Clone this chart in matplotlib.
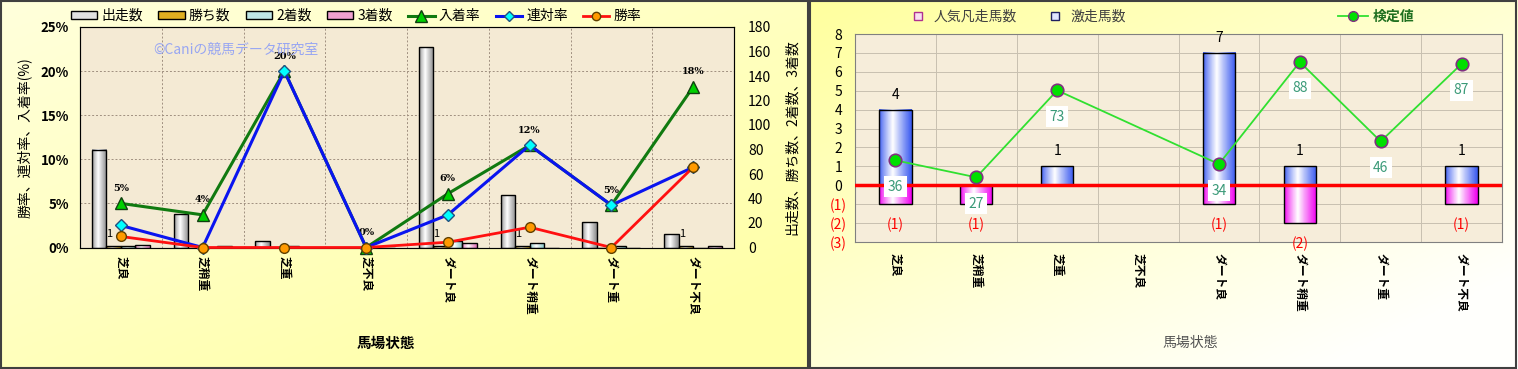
import numpy as np
import matplotlib
matplotlib.use('Agg')
import matplotlib.pyplot as plt
from matplotlib.colors import LinearSegmentedColormap
from matplotlib.patches import Patch, Rectangle
from matplotlib.lines import Line2D
from matplotlib.ticker import FuncFormatter, FixedLocator

plt.rcParams['font.family'] = ['Noto Sans CJK JP', 'DejaVu Sans']
plt.rcParams['axes.unicode_minus'] = False

# ---- data ----
cats = ['芝良', '芝稍重', '芝重', '芝不良', 'ダート良', 'ダート稍重', 'ダート重', 'ダート不良']
runs = [80, 27, 5, 0, 164, 43, 21, 11]      # 出走数
wins = [1, 0, 0, 0, 1, 1, 0, 1]             # 勝ち数
second = [1, 0, 1, 0, 5, 4, 1, 0]           # 2着数
third = [2, 1, 0, 0, 4, 0, 0, 1]            # 3着数
place_rate = [5.0, 3.7, 20.0, 0.0, 6.1, 11.6, 4.8, 18.2]   # 入着率
quin_rate = [2.5, 0.0, 20.0, 0.0, 3.7, 11.6, 4.8, 9.1]     # 連対率
win_rate = [1.25, 0.0, 0.0, 0.0, 0.6, 2.3, 0.0, 9.1]       # 勝率

hot = [4, 0, 1, 0, 7, 1, 0, 1]          # 激走馬数
flop = [-1, -1, 0, 0, -1, -2, 0, -1]    # 人気凡走馬数
test_val = [36, 27, 73, np.nan, 34, 88, 46, 87]  # 検定値

W, H = 1518, 369
fig = plt.figure(figsize=(W / 100, H / 100), dpi=100)

# background gradients for both panels
bg = fig.add_axes([0, 0, 1, 1], zorder=-10)
bg.set_axis_off()
xx, yy = np.meshgrid(np.linspace(0, 1, 300), np.linspace(0, 1, 80))
white = np.array([1.0, 1.0, 0.97])
yellow = np.array([1.0, 1.0, 0.66])
tl = np.clip(0.35 + 0.35 * xx + 0.4 * yy, 0, 1)[..., None]
img_l = white * (1 - tl) + yellow * tl
tr = np.clip(1.0 - 0.55 * xx - 0.6 * yy, 0, 1)[..., None]
img_r = np.array([1.0, 1.0, 0.99]) * (1 - tr) + np.array([1.0, 1.0, 0.62]) * tr
bg.imshow(img_l, extent=[0, 808, H, 0], aspect='auto')
bg.imshow(img_r, extent=[810, W, H, 0], aspect='auto')
bg.set_xlim(0, W); bg.set_ylim(H, 0)
bg.add_patch(Rectangle((1, 1), 807, H - 2, fill=False, ec='#404040', lw=1.5))
bg.add_patch(Rectangle((810, 1), W - 812, H - 2, fill=False, ec='#404040', lw=1.5))


def cmap3(c):
    return LinearSegmentedColormap.from_list('g', [c, '#FFFFFF', c], N=128)


def grad_bars(ax, x, h, w, color, z=2):
    bars = ax.bar(x, h, w, facecolor='none', edgecolor='black', lw=1, zorder=z + 1)
    g = np.linspace(0, 1, 60).reshape(1, -1) ** 0.8
    for b in bars:
        if b.get_height() == 0:
            continue
        x0, y0 = b.get_x(), b.get_y()
        ax.imshow(g, extent=[x0, x0 + b.get_width(), y0, y0 + b.get_height()],
                  aspect='auto', cmap=cmap3(color), zorder=z, interpolation='bilinear')
    return bars


x = np.arange(len(cats))
parch = '#F4EAD4'

# ================= left chart =================
pos_l = [80 / W, 1 - 247.5 / H, 654 / W, 220.5 / H]
ax_pct = fig.add_axes(pos_l)
ax_pct.set_facecolor(parch)
ax_pct.set_xlim(-0.5, 7.5)
ax_pct.set_ylim(0, 25)
ax_pct.set_yticks(np.arange(0, 26, 5))
ax_pct.yaxis.set_major_formatter(FuncFormatter(lambda v, p: f'{v:.0f}%'))
ax_pct.set_xticks(x)
ax_pct.set_xticklabels(cats, rotation=-90, fontweight='bold', fontsize=8.5, va='top')
ax_pct.xaxis.set_minor_locator(FixedLocator(np.arange(0.5, 7.5, 1)))
ax_pct.grid(axis='y', color='#A09080', ls=(0, (2, 2)), lw=0.7)
ax_pct.grid(axis='x', which='minor', color='#A09080', ls=(0, (2, 2)), lw=0.7)
ax_pct.tick_params(axis='x', which='both', length=0, pad=6)
ax_pct.tick_params(axis='y', length=0, labelsize=9.5, pad=8)
for t in ax_pct.get_yticklabels():
    t.set_fontweight('bold')
ax_pct.set_ylabel('勝率、連対率、入着率(%)', fontsize=10, labelpad=6)
for s in ax_pct.spines.values():
    s.set_color('#606060')

ax_cnt = ax_pct.twinx()
ax_cnt.set_ylim(0, 180)
ax_cnt.set_yticks(np.arange(0, 181, 20))
ax_cnt.tick_params(axis='y', length=0, labelsize=10, pad=10)
ax_cnt.set_ylabel('出走数、勝ち数、2着数、3着数', fontsize=10, labelpad=10)
bw = 0.178
grad_bars(ax_cnt, x - 1.5 * bw, runs, bw, '#8C8C8C')
grad_bars(ax_cnt, x - 0.5 * bw, wins, bw, '#C99400')
grad_bars(ax_cnt, x + 0.5 * bw, second, bw, '#7FC4C4')
grad_bars(ax_cnt, x + 1.5 * bw, third, bw, '#E070B8')
ax_cnt.set_xlim(-0.5, 7.5)
ax_cnt.set_ylim(0, 180)
for xi, v in zip(x, wins):
    if v:
        ax_cnt.annotate(str(v), (xi - 0.5 * bw - 0.05, v), textcoords='offset points',
                        xytext=(0, 7), ha='center', fontsize=8)

ax_ln = fig.add_axes(pos_l, sharex=ax_pct, sharey=ax_pct)
ax_ln.patch.set_visible(False)
ax_ln.set_axis_off()
ax_ln.plot(x, place_rate, color='#107A10', lw=2.2, marker='^', ms=9,
           mfc='#00D000', mec='#104010', zorder=4, clip_on=False)
ax_ln.plot(x, quin_rate, color='#0A14F0', lw=2.2, marker='D', ms=6,
           mfc='#00FFFF', mec='#205080', zorder=5, clip_on=False)
ax_ln.plot(x, win_rate, color='#FF1010', lw=2.0, marker='o', ms=7,
           mfc='#FF9A00', mec='#604000', zorder=6, clip_on=False)
for xi, v in zip(x, place_rate):
    ax_ln.annotate(f'{v:.0f}%', (xi, v), textcoords='offset points', xytext=(0, 9),
                   ha='center', fontsize=7, fontweight='bold', family='DejaVu Serif')
ax_ln.text(0.238, 0.895, '©Caniの競馬データ研究室', transform=ax_ln.transAxes,
           ha='center', va='center', fontsize=10, color='#98A6F2')

fig.text(386 / W, 1 - 343 / H, '馬場状態', ha='center', va='center',
         fontsize=10.5, fontweight='bold')

h_l = [Patch(fc='#E0E0E0', ec='black', label='出走数'),
       Patch(fc='#E0B020', ec='black', label='勝ち数'),
       Patch(fc='#BFE6E6', ec='black', label='2着数'),
       Patch(fc='#F0A0D0', ec='black', label='3着数'),
       Line2D([], [], color='#107A10', lw=2.2, marker='^', ms=8, mfc='#00D000', mec='#104010', label='入着率'),
       Line2D([], [], color='#0A14F0', lw=2.2, marker='D', ms=5, mfc='#00FFFF', mec='#205080', label='連対率'),
       Line2D([], [], color='#FF1010', lw=2.0, marker='o', ms=6, mfc='#FF9A00', mec='#604000', label='勝率')]
fig.legend(handles=h_l, loc='center', bbox_to_anchor=(356 / W, 1 - 16 / H), ncol=7,
           frameon=False, fontsize=10, handlelength=1.9, handleheight=0.45,
           columnspacing=1.1, handletextpad=0.3)

# ================= right chart =================
pos_r = [855 / W, 1 - 242 / H, 647 / W, 208 / H]
ax_r = fig.add_axes(pos_r)
ax_r.set_facecolor('#F6EDDA')
grad_bars(ax_r, x, hot, 0.4, '#3A5AF0')
grad_bars(ax_r, x, flop, 0.4, '#F000F0')
ax_r.set_xlim(-0.5, 7.5)
ax_r.set_ylim(-3, 8)
ax_r.set_yticks(np.arange(-3, 9))
ax_r.set_yticklabels([f'({-v})' if v < 0 else str(v) for v in range(-3, 9)])
for t, v in zip(ax_r.get_yticklabels(), range(-3, 9)):
    if v < 0:
        t.set_color('red')
ax_r.tick_params(axis='y', length=0, labelsize=10, pad=12)
for t in ax_r.get_yticklabels():
    t.set_horizontalalignment('center')
ax_r.set_xticks(x)
ax_r.set_xticklabels(cats, rotation=-90, fontweight='bold', fontsize=8.5, va='top')
ax_r.xaxis.set_minor_locator(FixedLocator(np.arange(0.5, 7.5, 1)))
ax_r.tick_params(axis='x', which='both', length=0, pad=8)
ax_r.grid(axis='y', color='#C8C0B0', lw=0.7)
ax_r.grid(axis='x', which='minor', color='#C8C0B0', lw=0.7)
ax_r.set_axisbelow(True)
ax_r.axhline(0, color='#FF0000', lw=2.5, zorder=6)
for s in ax_r.spines.values():
    s.set_color('#808080')
for xi, v in zip(x, hot):
    if v:
        ax_r.annotate(str(v), (xi, v), textcoords='offset points', xytext=(0, 8),
                      ha='center', fontsize=10)
for xi, v in zip(x, flop):
    if v:
        ax_r.annotate(f'({-v})', (xi, v), textcoords='offset points', xytext=(0, -10),
                      ha='center', va='top', fontsize=10, color='red')

ax_r2 = ax_r.twinx()
ax_r2.set_ylim(-7.2, 102.8)
ax_r2.set_axis_off()
m = ~np.isnan(np.array(test_val))
ax_r2.plot(x[m], np.array(test_val)[m], color='#30E030', lw=1.3, marker='o', ms=9,
           mfc='#00E000', mec='#803080', mew=1.2, zorder=7)
for xi, v in zip(x[m], np.array(test_val)[m]):
    ax_r2.annotate(f'{v:.0f}', (xi, v), textcoords='offset points', xytext=(0, -14),
                   ha='center', va='top', fontsize=10, color='#3A9A78',
                   bbox=dict(boxstyle='square,pad=0.25', fc='white', ec='none'), zorder=8)

fig.text(1190 / W, 1 - 343 / H, '馬場状態', ha='center', va='center',
         fontsize=10, color='#505050')

h_r = [Line2D([], [], ls='none', marker='s', ms=6, mfc='#F8E0F0', mec='#B03090', label='人気凡走馬数'),
       Line2D([], [], ls='none', marker='s', ms=6, mfc='#E0E4FF', mec='#202060', label='激走馬数')]
fig.legend(handles=h_r, loc='center', bbox_to_anchor=(1015 / W, 1 - 17 / H), ncol=2,
           frameon=False, fontsize=10, handletextpad=0.1, columnspacing=1.8,
           labelcolor='#404040')
h_t = [Line2D([], [], color='#30E030', lw=1.3, marker='o', ms=7, mfc='#00E000',
              mec='#803080', label='検定値')]
lg = fig.legend(handles=h_t, loc='center', bbox_to_anchor=(1376 / W, 1 - 17 / H),
                frameon=False, fontsize=10, handlelength=2.2, handletextpad=0.3)
for t in lg.get_texts():
    t.set_color('#207020')
    t.set_fontweight('bold')

fig.savefig('out.png', dpi=100)
